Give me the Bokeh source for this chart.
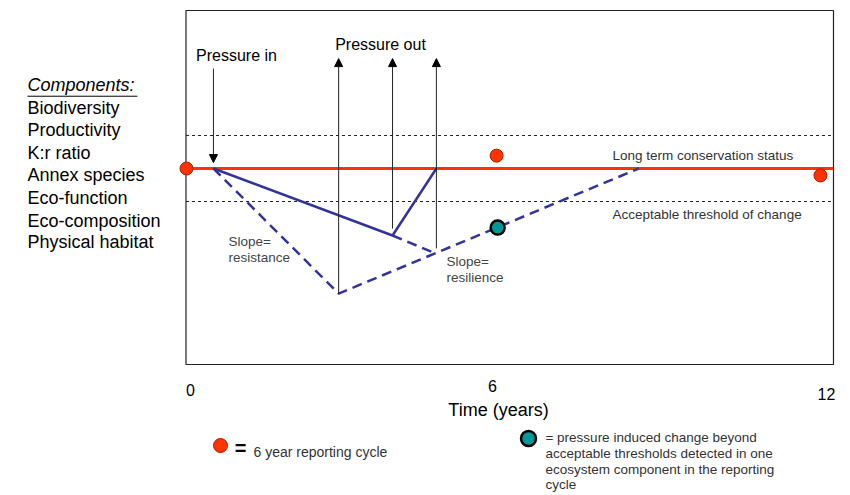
from bokeh.plotting import figure
from bokeh.models import Range1d, Arrow, NormalHead, ColumnDataSource
from bokeh.core.properties import value
from bokeh.embed import file_html
from bokeh.resources import INLINE

# ---------------- data ----------------
components = ["Biodiversity", "Productivity", "K:r ratio", "Annex species",
              "Eco-function", "Eco-composition", "Physical habitat"]
tick_years = [0, 6, 12]
tick_labels = ["0", "6", "12"]

conservation_status = 0.0
threshold_upper = 1.0
threshold_lower = -1.0

# reporting-cycle observations (years, status)
report_years = [0.0, 5.87, 12.0]
report_status = [0.0, 0.39, -0.21]
# change beyond threshold
alert_years = [5.89]
alert_status = [-1.79]

# solid trajectory (resistance -> recovery)
solid_years = [0.51, 3.90, 4.73]
solid_status = [0.0, -2.03, 0.0]
# dashed continuation of decline
cont_years = [3.90, 4.68]
cont_status = [-2.03, -2.55]
# dashed trajectory (low resistance, slow resilience)
dashed_years = [0.51, 2.88, 8.56]
dashed_status = [0.0, -3.79, 0.0]

pressure_in_year = 0.51
pressure_out_years = [2.88, 3.90, 4.73]
pressure_out_base = [-3.79, -1.82, -2.42]

FONT = value("Liberation Sans")
RED = "#FF3300"
BLUE = "#333399"
TEAL = "#009999"

p = figure(width=850, height=495,
           x_range=Range1d(-3.521, 12.569), y_range=Range1d(-9.909, 5.091),
           output_backend="svg", toolbar_location=None,
           x_axis_location=None, y_axis_location=None, min_border=0)
p.grid.visible = False
p.outline_line_color = None
p.background_fill_color = "white"
p.border_fill_color = "white"

# plot box
p.quad(left=[-0.01], right=[12.247], top=[4.788], bottom=[-5.939],
       fill_color=None, line_color="#222222", line_width=1.2)

# thresholds
p.segment(x0=[-0.01, -0.01], x1=[12.247, 12.247],
          y0=[threshold_upper, threshold_lower], y1=[threshold_upper, threshold_lower],
          line_color="#222222", line_width=1, line_dash="3 3")

# long-term conservation status
p.segment(x0=[-0.01], x1=[12.247], y0=[conservation_status], y1=[conservation_status],
          line_color=RED, line_width=3)

# pressure arrows
src_out = ColumnDataSource(dict(xs=pressure_out_years, ys=pressure_out_base,
                                xe=pressure_out_years, ye=[3.33] * 3))
p.add_layout(Arrow(end=NormalHead(size=8, fill_color="black", line_color="black"),
                   source=src_out, x_start="xs", y_start="ys", x_end="xe", y_end="ye",
                   line_color="#222222", line_width=1))
p.add_layout(Arrow(end=NormalHead(size=8, fill_color="black", line_color="black"),
                   x_start=pressure_in_year, y_start=3.03,
                   x_end=pressure_in_year, y_end=0.18,
                   line_color="#222222", line_width=1))

# trajectories
p.line(dashed_years, dashed_status, line_color=BLUE, line_width=2.5, line_dash="10 6")
p.line(cont_years, cont_status, line_color=BLUE, line_width=2.5, line_dash="10 6")
p.line(solid_years, solid_status, line_color=BLUE, line_width=2.5)

# observations
p.scatter(report_years, report_status, size=13, fill_color=RED,
          line_color="#A02000", line_width=1)
p.scatter(alert_years, alert_status, size=14, fill_color=TEAL,
          line_color="black", line_width=2.5)

# components list
p.text(x=[-3.01], y=[2.545], text=["Components:"], text_font=FONT,
       text_font_size="18px", text_font_style="italic", text_baseline="middle",
       text_color="black")
p.segment(x0=[-3.01], x1=[-0.93], y0=[2.19], y1=[2.19], line_color="black", line_width=1)
comp_y = [1.848, 1.152, 0.455, -0.212, -0.879, -1.576, -2.242]
p.text(x=[-3.01] * len(components), y=comp_y, text=components, text_font=FONT,
       text_font_size="18px", text_baseline="middle", text_color="black")

# pressure labels
p.text(x=[0.946, 3.672], y=[3.424, 3.758], text=["Pressure in", "Pressure out"],
       text_font=FONT, text_font_size="16px", text_align="center",
       text_baseline="middle", text_color="black")

# annotations inside
p.text(x=[8.064, 8.064], y=[0.394, -1.394],
       text=["Long term conservation status", "Acceptable threshold of change"],
       text_font=FONT, text_font_size="13.5px", text_baseline="middle",
       text_color="#333333")
p.text(x=[0.795, 0.795, 4.921, 4.921], y=[-2.212, -2.697, -2.818, -3.303],
       text=["Slope=", "resistance", "Slope=", "resilience"],
       text_font=FONT, text_font_size="13.5px", text_baseline="middle",
       text_color="#444444")

# x ticks and title
p.text(x=[0.076, 5.792, 12.114], y=[-6.727, -6.576, -6.848], text=tick_labels,
       text_font=FONT, text_font_size="16px",
       text_align="center", text_baseline="middle", text_color="black")
p.text(x=[5.906], y=[-7.333], text=["Time (years)"], text_font=FONT,
       text_font_size="18px", text_align="center", text_baseline="middle",
       text_color="black")

# legend
p.scatter([0.644], [-8.394], size=14, fill_color=RED, line_color="#A02000", line_width=1)
p.text(x=[1.022], y=[-8.47], text=["="], text_font=FONT, text_font_size="20px",
       text_font_style="bold", text_align="center", text_baseline="middle",
       text_color="black")
p.text(x=[1.268], y=[-8.576], text=["6 year reporting cycle"], text_font=FONT,
       text_font_size="14px", text_baseline="middle", text_color="#333333")
p.scatter([6.474], [-8.182], size=15, fill_color=TEAL, line_color="black", line_width=2.5)
p.text(x=[6.795] * 4, y=[-8.152, -8.636, -9.121, -9.576],
       text=["= pressure induced change beyond", "acceptable thresholds detected in one",
             "ecosystem component in the reporting", "cycle"],
       text_font=FONT, text_font_size="13.5px", text_baseline="middle",
       text_color="#333333")

open("out.html", "w").write(file_html(p, INLINE))
